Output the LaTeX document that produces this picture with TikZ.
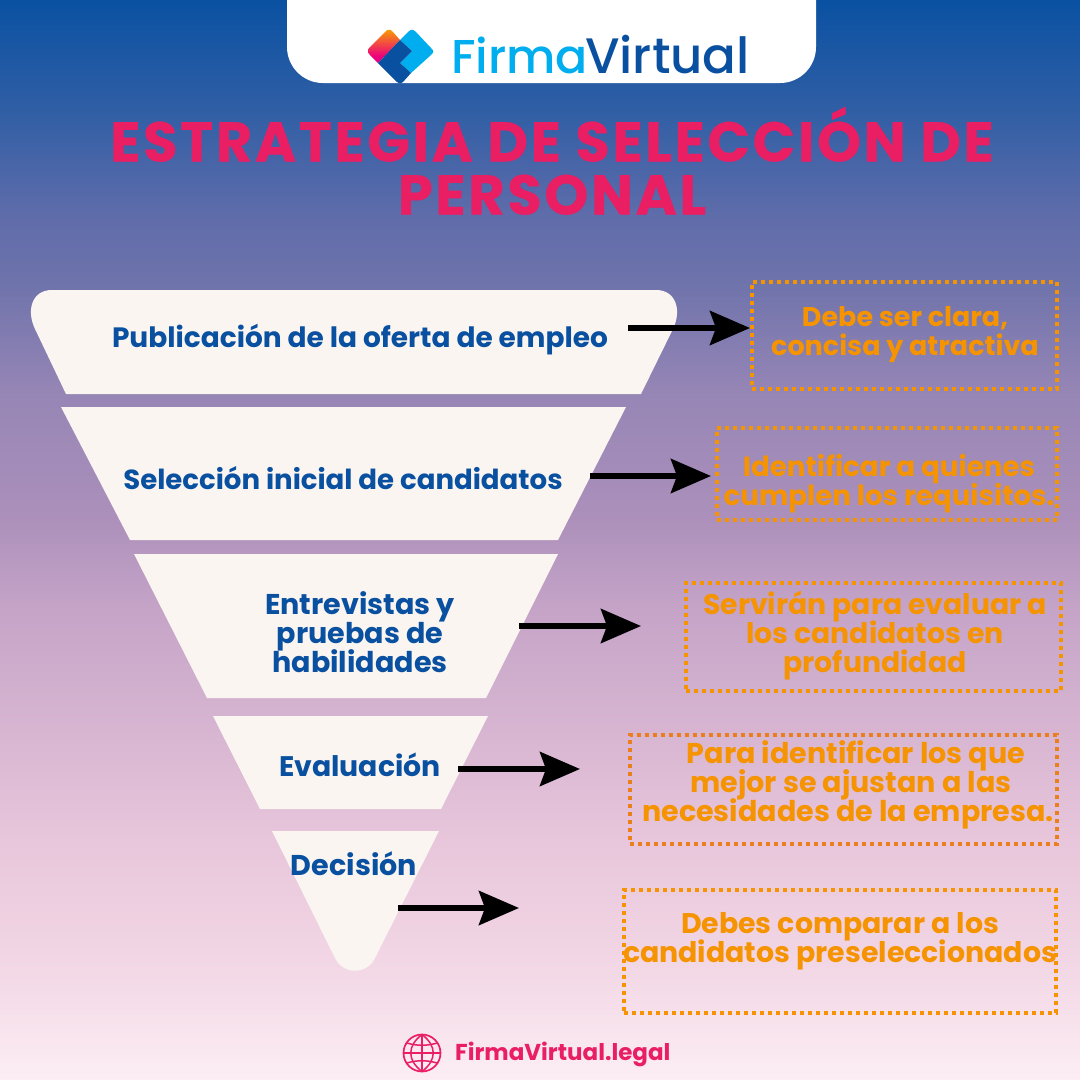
\documentclass[tikz,border=0pt]{standalone}
\usepackage{fontspec}
\setmainfont{Poppins}
\newfontfamily\logofont{Poppins Medium}
\newfontfamily\titlefont[LetterSpace=4.6,FakeBold=0.3]{Poppins Bold}
\usetikzlibrary{arrows.meta}
\lineskiplimit=-100pt
\definecolor{fvblue}{HTML}{0A50A0}
\definecolor{fvsky}{HTML}{00AEEF}
\definecolor{fvpink}{HTML}{E91E63}
\definecolor{fvorange}{HTML}{F59300}
\definecolor{fvorangeb}{HTML}{EB7F1E}
\definecolor{fvcream}{HTML}{FAF5F1}
\pgfdeclareverticalshading{fvback}{100bp}{%
 rgb(0bp)=(0.988,0.933,0.957);
 rgb(25bp)=(0.988,0.933,0.957);
 rgb(30bp)=(0.953,0.847,0.902);
 rgb(36bp)=(0.910,0.776,0.859);
 rgb(47bp)=(0.769,0.639,0.780);
 rgb(51bp)=(0.675,0.565,0.733);
 rgb(57bp)=(0.584,0.522,0.710);
 rgb(62bp)=(0.431,0.451,0.671);
 rgb(65bp)=(0.373,0.424,0.667);
 rgb(70bp)=(0.184,0.369,0.647);
 rgb(75bp)=(0.039,0.318,0.635);
 rgb(100bp)=(0.039,0.318,0.635)}
\pgfdeclareverticalshading{fvlogo}{100bp}{%
 rgb(0bp)=(0.925,0.0,0.490);
 rgb(35bp)=(0.925,0.0,0.490);
 rgb(75bp)=(0.976,0.616,0.0);
 rgb(100bp)=(0.976,0.616,0.0)}
\tikzset{
 x=1pt,y=-1pt,
 tiertext/.style={text=fvblue,font=\bfseries\fontsize{#1}{29}\selectfont,align=center,inner sep=0pt},
 note/.style={draw=fvorange,line width=4pt,dash pattern=on 4pt off 4pt,fill=none,outer sep=0pt,anchor=north west},
 notetext/.style={text=fvorange,font=\bfseries\fontsize{#1}{29}\selectfont,align=center,inner sep=0pt},
 flow/.style={draw=black,line width=6pt,-{Stealth[length=40pt,width=34pt,inset=6pt]}},
 titletext/.style={anchor=base,inner sep=0pt,text=fvpink,font=\titlefont\fontsize{56}{56}\selectfont},
 globe/.style={draw=fvpink,line width=1.5pt},
}
\begin{document}
\begin{tikzpicture}
\useasboundingbox (0,0) rectangle (1080,1080);
\shade[shading=fvback] (0,0) rectangle (1080,1080);
% header
\fill[white,rounded corners=36pt] (287,-60) rectangle (816,83);
\shade[shading=fvlogo] (368,51) .. controls (368,49) and (369,48) .. (370,47) -- (385,32) .. controls (387,29) and (391,29) .. (393,32) -- (400,40) -- (378,63) -- (370,55) .. controls (369,54) and (368,53) .. (368,51) -- cycle;
\fill[fvsky] (400,40) -- (408,32) .. controls (411,29) and (413,29) .. (416,32) -- (431,48) .. controls (434,51) and (434,52) .. (431,55) -- (411,73) -- (400,63) -- (412,51) -- cycle;
\fill[fvblue] (400,40) -- (412,51) -- (400,63) -- (411,73) -- (403,82) .. controls (401,84) and (399,84) .. (397,82) -- (378,63) -- cycle;
\node[anchor=base west,inner sep=0pt,text=fvsky,font=\logofont\fontsize{47.5}{47}\selectfont] (firma) at (451,73) {Firma};
\node[anchor=base west,inner sep=0pt,text=fvblue,font=\logofont\fontsize{49.8}{47}\selectfont] (virtual) at (585,73) {Virtual};
% title
\node[titletext] (t1) at (552,161.5) {ESTRATEGIA DE SELECCIÓN DE};
\node[titletext] (t2) at (552,214.5) {PERSONAL};
% funnel
\fill[fvcream] (66,394) -- (35,329) .. controls (26,310) and (32,290) .. (52,290) -- (656,290) .. controls (676,290) and (682,310) .. (673,329) -- (641,394) -- cycle;
\fill[fvcream] (61,407) -- (626,407) -- (558,540) -- (130,540) -- cycle;
\fill[fvcream] (134,554) -- (558,554) -- (486,698) -- (207,698) -- cycle;
\fill[fvcream] (213,716) -- (488,716) -- (441,809) -- (260,809) -- cycle;
\fill[fvcream] (272,831) -- (439,831) -- (375,958) .. controls (367,975) and (343,975) .. (335,958) -- cycle;
\node[tiertext=28] (a1) at (360,340) {Publicación de la oferta de empleo};
\node[tiertext=27.6] (a2) at (343,478) {Selección inicial de candidatos};
\node[tiertext=28.6] (a3) at (360,632) {Entrevistas y\\pruebas de\\habilidades};
\node[tiertext=28.3] (a4) at (360,765) {Evaluación};
\node[tiertext=28.6] (a5) at (354,864) {Decisión};
% notes
\node[note,minimum width=305pt,minimum height=107pt] (b1) at (752,282) {};
\node[note,minimum width=340pt,minimum height=92pt] (b2) at (717,428) {};
\node[note,minimum width=375pt,minimum height=108pt] (b3) at (686,583) {};
\node[note,draw=fvorangeb,minimum width=427pt,minimum height=109pt] (b4) at (630,735) {};
\node[note,minimum width=432pt,minimum height=123pt] (b5) at (624,890) {};
\node[notetext=27] (c1) at (905,334.5) {Debe ser clara,\\concisa y atractiva};
\node[notetext=27.7] (c2) at (889,483.5) {Identificar a quienes\\cumplen los requisitos.};
\node[notetext=28.3] (c3) at (875,636) {Servirán para evaluar a\\los candidatos en\\profundidad};
\node[notetext=28.6] (c4) at (848,785) {\hspace*{16pt}Para identificar los que\\\hspace*{6pt}mejor se ajustan a las\\necesidades de la empresa.};
\node[notetext=28.4] (c5) at (840,941) {Debes comparar a los\\candidatos preseleccionados};
% arrows
\coordinate (s1) at (628,328);\coordinate (s2) at (590,476);\coordinate (s3) at (519,626);\coordinate (s4) at (458,769);\coordinate (s5) at (398,908);
\coordinate (e1) at (750,328);\coordinate (e2) at (711,476);\coordinate (e3) at (641,626);\coordinate (e4) at (580,769);\coordinate (e5) at (519,908);
\foreach \i in {1,...,5} \draw[flow] (s\i) -- (e\i);
% footer
\draw[globe,line width=1.7pt] (422,1053) circle (18.5pt);
\draw[globe] (422,1034.5) .. controls (407,1046) and (407,1060) .. (422,1071.5);
\draw[globe] (422,1034.5) .. controls (437,1046) and (437,1060) .. (422,1071.5);
\draw[globe] (422,1034.5) -- (422,1071.5);
\draw[globe] (403.5,1053) -- (440.5,1053);
\draw[globe] (407,1043) .. controls (417,1046) and (427,1046) .. (437,1043);
\draw[globe] (407,1063) .. controls (417,1060) and (427,1060) .. (437,1063);
\node[anchor=base west,inner sep=0pt,text=fvpink,font=\bfseries\fontsize{23}{23}\selectfont] (web) at (455,1060) {FirmaVirtual.legal};
\end{tikzpicture}
\end{document}
